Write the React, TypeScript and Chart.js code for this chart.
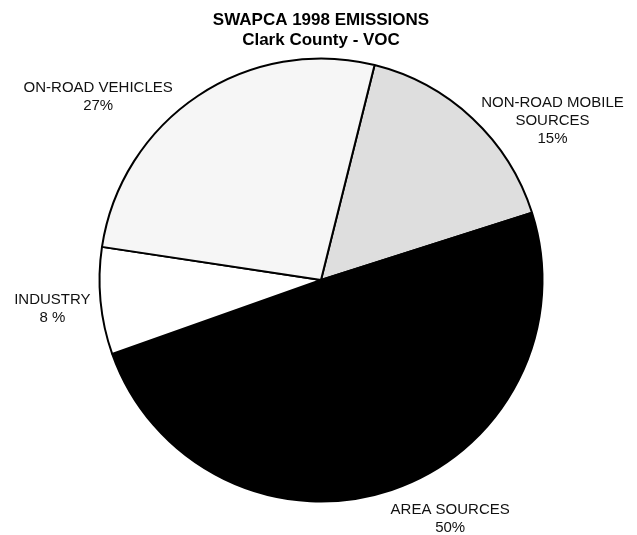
import React, { useEffect, useRef } from "react";
import { Chart, registerables } from "chart.js";

Chart.register(...registerables);

const titleLines = ["SWAPCA 1998 EMISSIONS", "Clark County - VOC"];
const categories = [
  ["NON-ROAD MOBILE", "SOURCES"],
  ["AREA SOURCES"],
  ["INDUSTRY"],
  ["ON-ROAD VEHICLES"],
];
const shares = [16.2, 49.5, 7.8, 26.5];
const percentLabels = ["15%", "50%", "8 %", "27%"];
const sliceColors = ["#dedede", "#000000", "#ffffff", "#f6f6f6"];

// label placement, polar around the pie centre: angle (deg, clockwise from top), radius factor
const labelPlacement = [
  { angle: 55.5, factor: 1.268 },
  { angle: 151.6, factor: 1.226 },
  { angle: 263.8, factor: 1.22 },
  { angle: 309.4, factor: 1.302 },
];

const FONT = '"Liberation Sans", Arial, sans-serif';

const outsideLabels = {
  id: "outsideLabels",
  afterDatasetsDraw(chart: any) {
    const meta = chart.getDatasetMeta(0);
    const ctx = chart.ctx;
    ctx.save();
    ctx.fillStyle = "#111111";
    ctx.font = `15px ${FONT}`;
    ctx.textAlign = "center";
    ctx.textBaseline = "middle";
    meta.data.forEach((arc: any, i: number) => {
      const p = labelPlacement[i];
      const a = (p.angle * Math.PI) / 180;
      const r = arc.outerRadius * p.factor;
      const cx = arc.x + r * Math.sin(a);
      const cy = arc.y - r * Math.cos(a);
      const lines = [...categories[i], percentLabels[i]];
      const lh = 18;
      lines.forEach((t, j) => {
        ctx.fillText(t, cx, cy + (j - (lines.length - 1) / 2) * lh);
      });
    });
    ctx.restore();
  },
};

export default function App() {
  const ref = useRef<HTMLCanvasElement>(null);
  useEffect(() => {
    if (!ref.current) return;
    const chart = new Chart(ref.current, {
      type: "pie",
      data: {
        labels: categories.map((c) => c.join(" ")),
        datasets: [
          {
            data: shares,
            backgroundColor: sliceColors,
            borderColor: "#000000",
            borderWidth: 2,
            offset: 0,
            hoverOffset: 0,
          },
        ],
      },
      options: {
        responsive: false,
        animation: false,
        rotation: 14,
        layout: { padding: { left: 5, right: 0, top: 0, bottom: 32.5 } },
        plugins: {
          legend: { display: false },
          tooltip: { enabled: false },
          title: {
            display: true,
            text: titleLines,
            color: "#000000",
            font: { family: FONT, size: 17, weight: "bold", lineHeight: 20 / 17 },
            padding: { top: 10, bottom: 7.5 },
          },
        },
      },
      plugins: [outsideLabels],
    });
    return () => chart.destroy();
  }, []);
  return (
    <div style={{ position: "absolute", left: 0, top: 0, width: 637, height: 535, background: "#fff" }}>
      <canvas ref={ref} width={637} height={535} />
    </div>
  );
}
